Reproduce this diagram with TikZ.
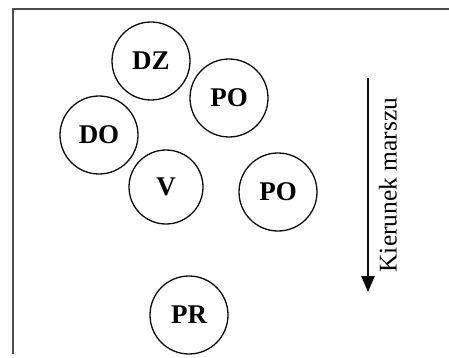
\documentclass[tikz,border=0pt]{standalone}
\usepackage{fontspec}
\setmainfont{Liberation Serif}
\usetikzlibrary{arrows.meta, positioning}
\definecolor{mainBlack}{gray}{0.05}
\definecolor{frameGray}{gray}{0.3}

\tikzset{
    unit/.style={circle, draw=mainBlack, line width=1.3pt, minimum size=78pt, inner sep=0pt,
        font=\fontsize{27}{27}\selectfont\bfseries},
}

\begin{document}
\begin{tikzpicture}[x=1pt, y=-1pt, >={Triangle[width=13pt,length=16pt]}]
    \useasboundingbox (0,0) rectangle (449,358);

    % ramka
    \draw[line width=1.8pt, frameGray] (13,354) -- (13,9) -- (449,9);

    % szyk
    \node[unit] (dz) at (151,61) {DZ};
    \node[unit] (po1) at (229,98) {PO};
    \node[unit] (do) at (99,135) {DO};
    \node[unit, minimum size=74pt] (v) at (166,187) {V};
    \node[unit] (po2) at (278,192) {PO};
    \node[unit] (pr) at (189,315) {PR};

    % kierunek
    \coordinate (S) at (368,78);
    \coordinate (E) at (368,292);
    \draw[->, line width=2.4pt, mainBlack] (S) -- (E);
    \node[rotate=90, font=\fontsize{25.5}{25.5}\selectfont, inner sep=0pt] (kier) at (388,185) {Kierunek marszu};
\end{tikzpicture}
\end{document}
